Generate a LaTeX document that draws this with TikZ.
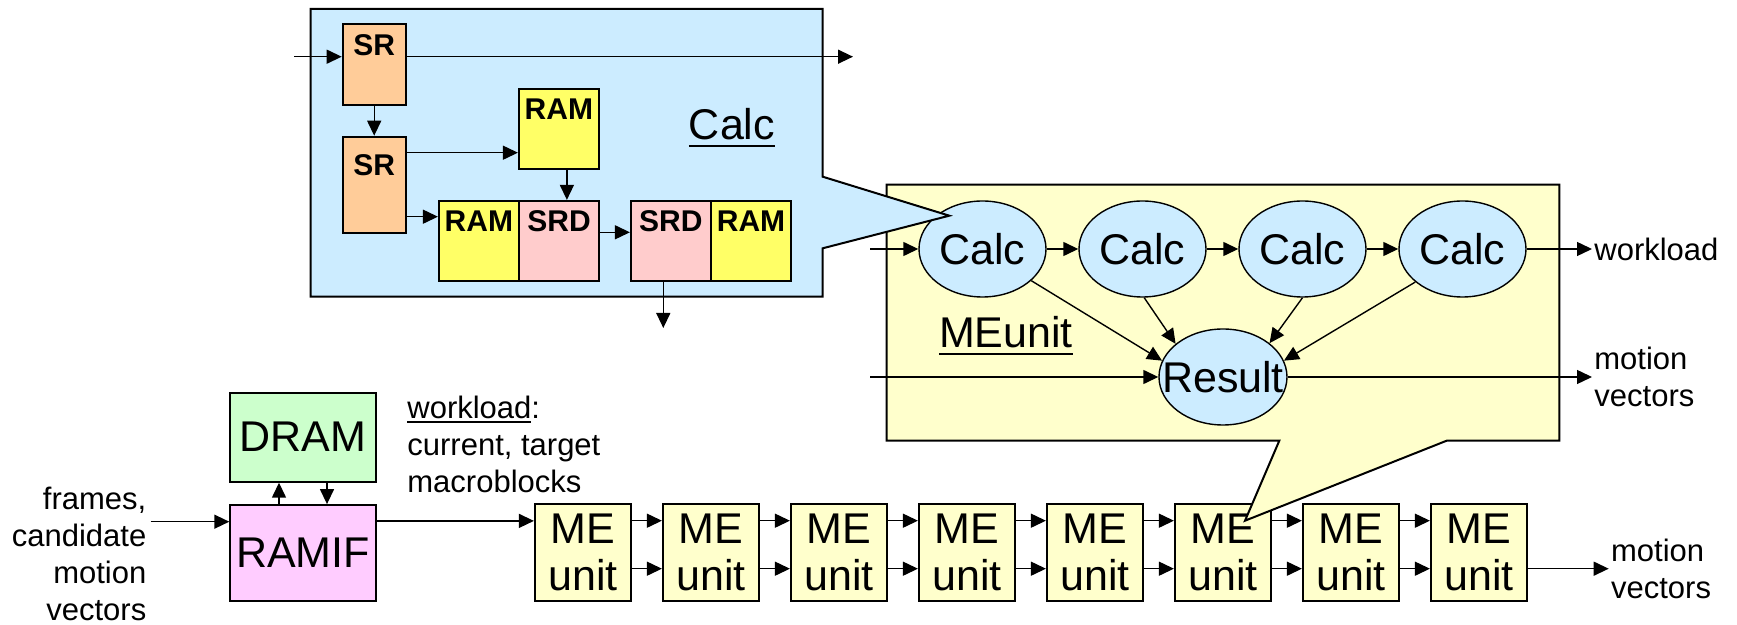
\documentclass[tikz,border=0pt]{standalone}
\usepackage{fontspec}
\setmainfont{Liberation Sans}
\usepackage{tikz}
\usetikzlibrary{arrows.meta,positioning,shapes.geometric}
\definecolor{calcblue}{RGB}{204,236,255}
\definecolor{srorange}{RGB}{255,204,153}
\definecolor{ramyellow}{RGB}{255,255,102}
\definecolor{srdpink}{RGB}{255,204,204}
\definecolor{unityellow}{RGB}{255,255,204}
\definecolor{dramgreen}{RGB}{204,255,204}
\definecolor{ramifpink}{RGB}{255,204,255}
% underline with a bit more room below the baseline
\newcommand{\ulbl}[2][3.3pt]{\setbox0\hbox{#2}\rlap{\rule[-#1]{\wd0}{1pt}}\box0}

\tikzset{
  arr/.style={-{Triangle[length=7.5pt,width=7pt]},line width=0.7pt},
  blk/.style={draw,line width=1pt,inner sep=0pt},
  srbox/.style={blk,fill=srorange,minimum width=31.5pt},
  rambox/.style={blk,fill=ramyellow,minimum width=40pt,minimum height=40pt},
  srdbox/.style={blk,fill=srdpink,minimum width=40pt,minimum height=40pt},
  boxtag/.style={font=\fontsize{15}{18}\selectfont\bfseries,anchor=base,inner sep=0pt},
  calcell/.style={ellipse,draw,line width=0.7pt,fill=calcblue,inner sep=0pt,
    minimum width=63.5pt,minimum height=48pt,font=\fontsize{21.5}{24}\selectfont},
  meubox/.style={blk,fill=unityellow,minimum width=48pt,minimum height=48.3pt,
    align=center,font=\fontsize{21.5}{23.5}\selectfont},
  bigbox/.style={blk,minimum width=72.7pt,font=\fontsize{21.5}{24}\selectfont},
  bigtxt/.style={font=\fontsize{21.5}{24}\selectfont,inner sep=0pt},
  lbltxt/.style={font=\fontsize{15.5}{18.5}\selectfont,inner sep=1pt},
}

\begin{document}
\begin{tikzpicture}[x=0.5pt,y=-0.5pt]
  \useasboundingbox (0,0) rectangle (1737,625);

  % RAMIF and DRAM
  \node[bigbox,fill=dramgreen,minimum height=44.5pt] (dram) at (303,437.2) {DRAM};
  \node[bigbox,fill=ramifpink,minimum height=47.8pt] (ramif) at (303,552.9) {RAMIF};
  \draw[arr] ([xshift=-12pt]ramif.north) -- ([xshift=-12pt]dram.south);
  \draw[arr] ([xshift=12pt]dram.south) -- ([xshift=12pt]ramif.north);
  \node[lbltxt,anchor=east,align=right] (frames) at (148.7,554) {frames,\\candidate\\motion\\vectors};
  \coordinate (framesin) at (150.7,521.7);
  \draw[arr] (framesin) -- (framesin -| ramif.west);
  \node[lbltxt,anchor=west,align=left] (wlnote) at (405,444) {\ulbl[2.6pt]{workload}:\\current, target\\macroblocks};

  % chain of ME units
  \foreach \i in {1,...,8}
    \node[meubox] (me\i) at (454.9+128*\i,552.7) {ME\\unit};
  \draw[arr] ([yshift=16pt]ramif.east) -- ([yshift=16pt]ramif.east -| me1.west);
  \foreach \i [count=\j from 2] in {1,...,7} {
    \draw[arr] ([yshift=16pt]me\i.east) -- ([yshift=16pt]me\j.west);
    \draw[arr] ([yshift=-8pt]me\i.east) -- ([yshift=-8pt]me\j.west);
  }
  \node[lbltxt,anchor=west,align=left] (mvbottom) at (1608.7,568.7) {motion\\vectors};
  \draw[arr] ([yshift=-8pt]me8.east) -- (mvbottom.west);

  % MEunit callout
  \draw[line width=1pt,fill=unityellow] (886.7,184.7) -- (1559.3,184.7) -- (1559.3,440.7)
    -- (1446.7,440.7) -- (1245,520.7) -- (1279.3,440.7) -- (886.7,440.7) -- cycle;
  \foreach \i in {1,...,4}
    \node[calcell] (calc\i) at (822.5+160*\i,249) {\makebox[0pt]{Calc}};
  \node[calcell,minimum width=64pt] (result) at (1223,377) {\makebox[0pt]{Result}};
  \foreach \i [count=\j from 2] in {1,2,3}
    \draw[arr] (calc\i) -- (calc\j);
  \coordinate (calcin) at (870,249);
  \coordinate (resin) at (870,377);
  \draw[arr] (calcin) -- (calc1);
  \draw[arr] (resin) -- (result);
  \draw[arr] (calc1.-33) -- (result.165);
  \draw[arr] (calc2.-88) -- (result.145);
  \draw[arr] (calc3.-90) -- (result.36);
  \draw[arr] (calc4.-145) -- (result.15);
  \node[lbltxt,anchor=west] (wlright) at (1592,249) {workload};
  \draw[arr] (calc4) -- (wlright);
  \node[lbltxt,anchor=west,align=left] (mvright) at (1592,377) {motion\\vectors};
  \draw[arr] (result) -- (mvright);
  \node[bigtxt,anchor=base] (melbl) at (1006,348) {\ulbl{MEunit}};

  % Calc callout
  \draw[line width=1pt,fill=calcblue] (310.7,9) -- (822.7,9) -- (822.7,176.7) -- (949.3,215.7)
    -- (822.7,248.3) -- (822.7,296.7) -- (310.7,296.7) -- cycle;
  \node[srbox,minimum height=40.35pt] (sr1) at (374.2,64.7) {};
  \node[srbox,minimum height=48pt] (sr2) at (374.2,184.7) {};
  \node[rambox] (ramtop) at (558.9,128.9) {};
  \node[rambox] (ramA) at (478.9,240.9) {};
  \node[srdbox] (srdA) at (559,240.9) {};
  \node[srdbox] (srdB) at (670.9,240.9) {};
  \node[rambox] (ramB) at (751,240.9) {};
  \node[boxtag] (sr1t) at ([yshift=-16pt]sr1.north) {SR};
  \node[boxtag] (sr2t) at ([yshift=-20pt]sr2.north) {SR};
  \node[boxtag] (ramtopt) at ([yshift=-16pt]ramtop.north) {RAM};
  \node[boxtag] (ramAt) at ([yshift=-16pt]ramA.north) {RAM};
  \node[boxtag] (srdAt) at ([yshift=-16pt]srdA.north) {SRD};
  \node[boxtag] (srdBt) at ([yshift=-16pt]srdB.north) {SRD};
  \node[boxtag] (ramBt) at ([yshift=-16pt]ramB.north) {RAM};
  \coordinate (srin) at (294.3,56.7);
  \coordinate (srout) at (853,56.7);
  \coordinate (srdout) at (663.3,328);
  \draw[arr] (srin) -- (srin -| sr1.west);
  \draw[arr] (srin -| sr1.east) -- (srout);
  \draw[arr] (sr1) -- (sr2);
  \draw[arr] ([yshift=16pt]sr2.east) -- ([yshift=16pt]sr2.east -| ramtop.west);
  \draw[arr] ([yshift=-16pt]sr2.east) -- ([yshift=-16pt]sr2.east -| ramA.west);
  \draw[arr] ([xshift=4pt]ramtop.south) -- ([xshift=4pt]ramtop.south |- srdA.north);
  \draw[arr] ([yshift=4.3pt]srdA.east) -- ([yshift=4.3pt]srdA.east -| srdB.west);
  \draw[arr] (srdout |- srdB.south) -- (srdout);
  \node[bigtxt,anchor=base] (calclbl) at (732,140) {\ulbl{Calc}};
\end{tikzpicture}
\end{document}
